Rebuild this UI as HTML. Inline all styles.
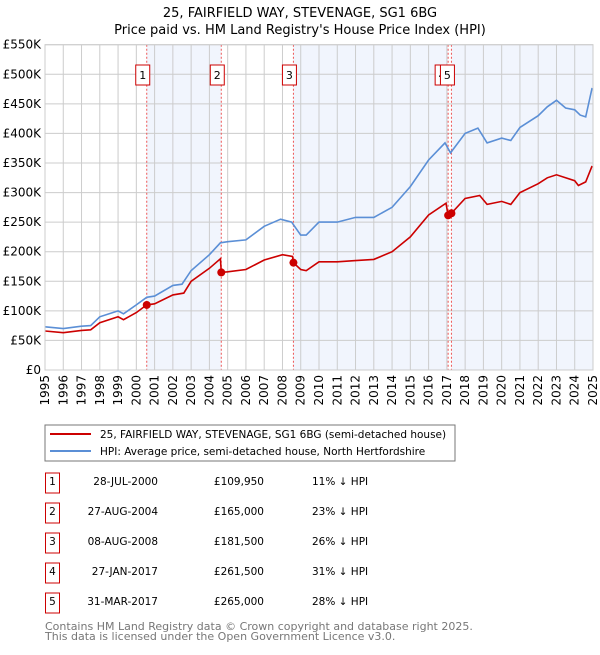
<!DOCTYPE html>
<html><head><meta charset="utf-8"><style>
body{margin:0;background:#fff;font-family:"Liberation Sans","DejaVu Sans",sans-serif}
svg text{font-family:"DejaVu Sans","Liberation Sans",sans-serif}
</style></head><body>
<svg id="c" width="600" height="650" viewBox="0 0 600 650">
<text x="300" y="17" text-anchor="middle" font-size="13">25, FAIRFIELD WAY, STEVENAGE, SG1 6BG</text>
<text x="300" y="34" text-anchor="middle" font-size="13">Price paid vs. HM Land Registry's House Price Index (HPI)</text>
<g id="plot"></g>
<rect x="45" y="425" width="410" height="36" fill="#fff" stroke="#777"/>
<line x1="50" y1="434" x2="91" y2="434" stroke="#cc0000" stroke-width="2"/>
<text x="100" y="438" font-size="10.5">25, FAIRFIELD WAY, STEVENAGE, SG1 6BG (semi-detached house)</text>
<line x1="50" y1="451" x2="91" y2="451" stroke="#5b8fd6" stroke-width="2"/>
<text x="100" y="455" font-size="10.5">HPI: Average price, semi-detached house, North Hertfordshire</text>
<g id="table" font-size="10.5"></g>
<text x="45" y="630" font-size="11" fill="#777">Contains HM Land Registry data © Crown copyright and database right 2025.</text>
<text x="45" y="640" font-size="11" fill="#777">This data is licensed under the Open Government Licence v3.0.</text>
</svg>
<script>
const hpiYears=[1995,1996,1997,1997.5,1998,1999,1999.3,2000,2000.57,2001,2002,2002.5,2003,2004,2004.6,2005,2006,2007,2007.9,2008.5,2009,2009.3,2010,2011,2012,2013,2014,2015,2016,2016.9,2017.2,2018,2018.7,2019.2,2020,2020.5,2021,2022,2022.5,2023,2023.5,2024,2024.3,2024.6,2024.95];
const hpiValues=[73,70,74,75,90,100,95,110,123,125,143,145,168,195,215,217,220,243,255,250,228,228,250,250,258,258,275,310,355,384,367,400,409,384,392,388,410,430,445,456,443,440,431,428,477];
const priceYears=[1995,1996,1997,1997.5,1998,1999,1999.3,2000,2000.57,2001,2002,2002.6,2003,2004,2004.6,2004.65,2005,2006,2007,2008,2008.55,2008.6,2009,2009.3,2010,2011,2012,2013,2014,2015,2016,2016.95,2017.07,2017.25,2018,2018.8,2019.2,2020,2020.5,2021,2022,2022.5,2023,2023.5,2024,2024.2,2024.6,2024.95];
const priceValues=[66,63,67,68,80,90,85,97,110,112,127,130,150,172,188,165,166,170,186,195,192,181.5,170,168,183,183,185,187,200,225,262,282,261.5,265,290,295,280,285,280,300,315,325,330,325,320,312,318,345];
const saleIds=["1","2","3","4","5"];
const saleYears=[2000.57,2004.65,2008.6,2017.07,2017.25];
const salePrices=[109950,165000,181500,261500,265000];
const saleDates=["28-JUL-2000","27-AUG-2004","08-AUG-2008","27-JAN-2017","31-MAR-2017"];
const saleLabels=["£109,950","£165,000","£181,500","£261,500","£265,000"];
const saleDiffs=["11% ↓ HPI","23% ↓ HPI","26% ↓ HPI","31% ↓ HPI","28% ↓ HPI"];
const yTicks=[0,50,100,150,200,250,300,350,400,450,500,550];
const yTickLabels=["£0","£50K","£100K","£150K","£200K","£250K","£300K","£350K","£400K","£450K","£500K","£550K"];
const xTicks=[1995,1996,1997,1998,1999,2000,2001,2002,2003,2004,2005,2006,2007,2008,2009,2010,2011,2012,2013,2014,2015,2016,2017,2018,2019,2020,2021,2022,2023,2024,2025];

const X0=45,X1=593,Y0=370,Y1=44.7;
const xs=y=>X0+(y-1995)/30*(X1-X0);
const ys=v=>Y0-v/550*(Y0-Y1);
const NS="http://www.w3.org/2000/svg";
const plot=document.getElementById('plot');
function mk(tag,attrs,parent){const e=document.createElementNS(NS,tag);for(const k in attrs)e.setAttribute(k,attrs[k]);(parent||plot).appendChild(e);return e;}

let bg=mk('rect',{x:X0,y:Y1,width:X1-X0,height:Y0-Y1,fill:'#fff'});


const bands=[[saleYears[0],saleYears[1]],[saleYears[2],saleYears[3]],[saleYears[4],2025]];
bands.forEach(b=>{const r=mk('rect',{x:xs(b[0]),y:Y1,width:xs(b[1])-xs(b[0]),height:Y0-Y1,fill:'#eef2fc',opacity:0.8});

});
yTicks.forEach((t,i)=>{const l=mk('line',{x1:X0,x2:X1,y1:ys(t),y2:ys(t),stroke:'#ccc','stroke-width':1});


const tx=mk('text',{x:X0-4,y:ys(t)+4,'text-anchor':'end','font-size':12});tx.textContent=yTickLabels[i];

});
xTicks.forEach(t=>{const l=mk('line',{x1:xs(t),x2:xs(t),y1:Y1,y2:Y0,stroke:'#ccc','stroke-width':1});


const tx=mk('text',{x:0,y:0,'text-anchor':'end','font-size':12,transform:`translate(${xs(t)+4},${Y0+5}) rotate(-90)`});tx.textContent=t;

});
saleYears.forEach((y,i)=>{const l=mk('line',{x1:xs(y),x2:xs(y),y1:Y1,y2:Y0,stroke:'#e55','stroke-width':1,'stroke-dasharray':'2,2'});

});
function path(xa,va,color,name){const d=xa.map((x,i)=>(i?'L':'M')+xs(x).toFixed(1)+','+ys(va[i]).toFixed(1)).join('');
const p=mk('path',{d:d,fill:'none',stroke:color,'stroke-width':1.6});

}
path(hpiYears,hpiValues,'#5b8fd6','hpi-line');
path(priceYears,priceValues,'#cc0000','price-line');
saleYears.forEach((y,i)=>{const c=mk('circle',{cx:xs(y),cy:ys(salePrices[i]/1000),r:4,fill:'#cc0000'});

});
saleYears.forEach((y,i)=>{const bx=xs(y)-11+(i===3?-2:0);const g=mk('g',{});


mk('rect',{x:bx,y:65,width:14,height:20,fill:'#fff',stroke:'#c00'},g);
const t=mk('text',{x:bx+7,y:79,'text-anchor':'middle','font-size':11},g);t.textContent=saleIds[i];});
mk('rect',{x:X0,y:Y1,width:X1-X0,height:Y0-Y1,fill:'none',stroke:'#ccc'});

const tb=document.getElementById('table');
saleIds.forEach((id,i)=>{const cy=483+30*i;const g=mk('g',{},tb);


mk('rect',{x:45.5,y:cy-10,width:14,height:20,fill:'#fff',stroke:'#c00'},g);
let t=mk('text',{x:52.5,y:cy+2,'text-anchor':'middle'},g);t.textContent=id;
t=mk('text',{x:158,y:cy+2,'text-anchor':'end'},g);t.textContent=saleDates[i];
t=mk('text',{x:264,y:cy+2,'text-anchor':'end'},g);t.textContent=saleLabels[i];
t=mk('text',{x:312,y:cy+2},g);t.textContent=saleDiffs[i];});
</script>
</body></html>
